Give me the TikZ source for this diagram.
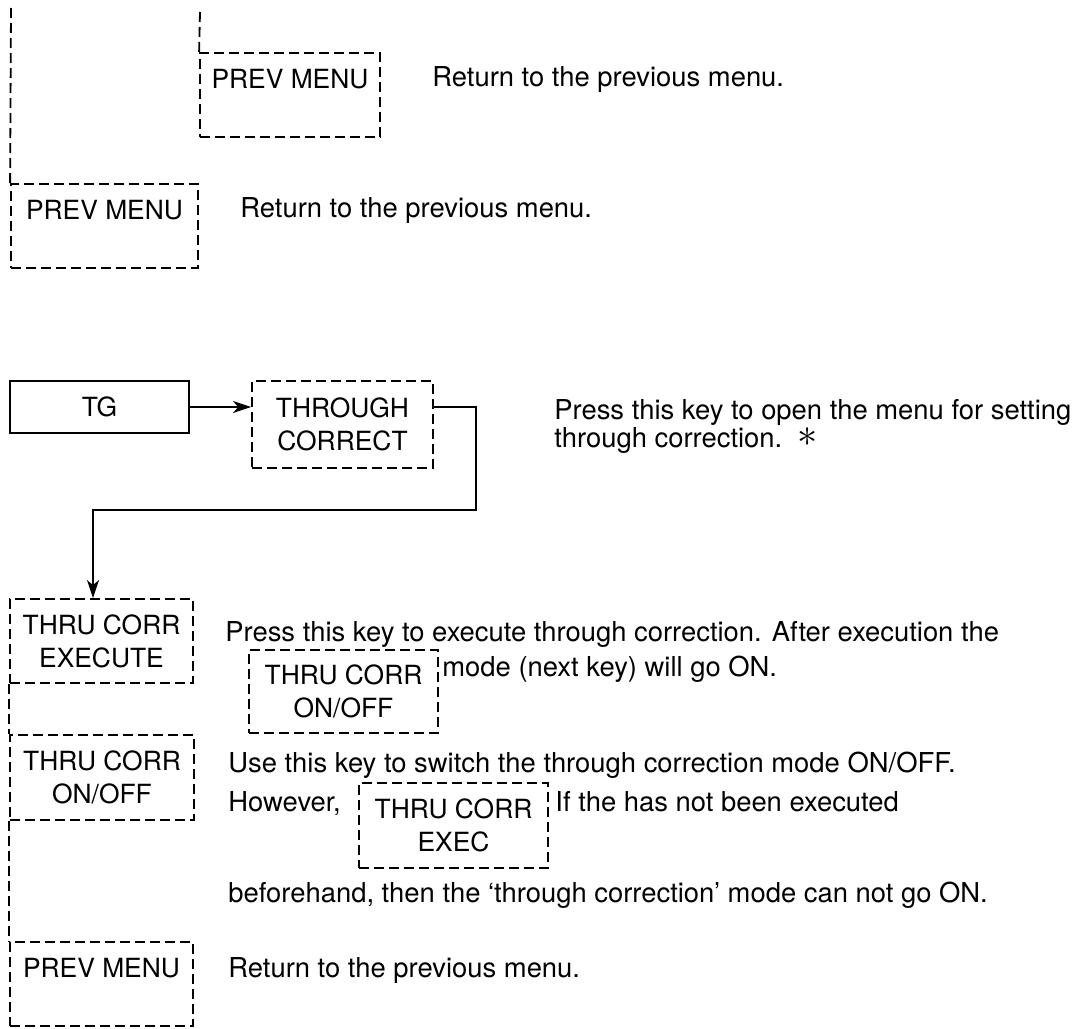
\documentclass[tikz,border=0pt]{standalone}
\usepackage{fontspec}
\setmainfont{TeX Gyre Heros}
\usetikzlibrary{arrows.meta}
\newcommand\fs{\fontsize{13.2}{16.5}\selectfont}
\newcommand\fd{\fontsize{13.7}{16.5}\selectfont}
\tikzset{
  keybox/.style={draw, dash pattern=on 5pt off 2.5pt, line width=0.9pt, align=center, inner sep=0pt, font=\fs},
  solidbox/.style={draw, line width=1.1pt, align=center, inner sep=0pt, font=\fs},
  dline/.style={dash pattern=on 5pt off 2.5pt, line width=0.9pt},
  desc/.style={anchor=base west, inner sep=0pt, font=\fd},
  conn/.style={line width=1pt},
  arr/.style={conn, -{Stealth[length=9pt,width=6pt,inset=2.5pt]}}
}
\begin{document}
\begin{tikzpicture}[x=0.5pt,y=-0.5pt]
\useasboundingbox (0,0) rectangle (1075,1028);
% top part
\node[keybox, minimum width=90pt, minimum height=42pt] (P1) at (290,95) {PREV MENU\\\phantom{M}};
\node[keybox, minimum width=93.5pt, minimum height=42pt] (P2) at (104.5,226) {PREV MENU\\\phantom{M}};
\coordinate (t0) at (11,8);
\coordinate (t1) at (200,12);
\draw[dline] (t0) -- (P2.north west);
\draw[dline] (t1) -- (P1.north west);
\node[desc] (R1) at (432,86.5) {Return to the previous menu.};
\node[desc] (R2) at (240,217.5) {Return to the previous menu.};
% TG part
\node[solidbox, minimum width=89.5pt, minimum height=26pt] (TG) at (99.5,407) {TG};
\node[keybox, minimum width=90.5pt, minimum height=43.5pt] (THR) at (342.5,424.5) {THROUGH\\CORRECT};
\node[desc] (T1) at (554,419) {Press this key to open the menu for setting};
\node[desc] (T2) at (554,447.5) {through correction.\ \ \raisebox{0.05ex}{\scalebox{1.4}{$\ast$}}};
\node[keybox, minimum width=91.5pt, minimum height=42pt] (EXE) at (101.5,641) {THRU CORR\\EXECUTE};
\node[keybox, minimum width=94.5pt, minimum height=41.5pt] (IONF) at (343.5,691.5) {THRU CORR\\ON/OFF};
\node[keybox, minimum width=92pt, minimum height=42.5pt] (ONF) at (102,777.5) {THRU CORR\\ON/OFF};
\node[keybox, minimum width=94.5pt, minimum height=42.5pt] (IEX) at (453.5,825.5) {THRU CORR\\EXEC};
\node[keybox, minimum width=91.5pt, minimum height=42pt] (P3) at (101.5,984) {PREV MENU\\\phantom{M}};
\coordinate (c1) at (476,510);
\coordinate (c2) at (93,510);
\draw[arr] (TG.east) -- (TG.east -| THR.west);
\draw[arr] (THR.east |- TG.east) -| (c1) -- (c2) -- (c2 |- EXE.north);
\draw[dline] (EXE.south west) -- (ONF.north west);
\draw[dline] (ONF.south west) -- (P3.north west);
\node[desc] (E1) at (225,641.5) {Press this key to execute through correction. After execution the};
\node[desc] (E2) at (442,676.5) {mode (next key) will go ON.};
\node[desc] (O1) at (228,772.5) {Use this key to switch the through correction mode ON/OFF.};
\node[desc] (O2) at (228,811.5) {However,};
\node[desc] (O3) at (555,811.5) {If the has not been executed};
\node[desc] (O4) at (228,902.5) {beforehand, then the `through correction' mode can not go ON.};
\node[desc] (R3) at (228,977.5) {Return to the previous menu.};
\end{tikzpicture}
\end{document}
